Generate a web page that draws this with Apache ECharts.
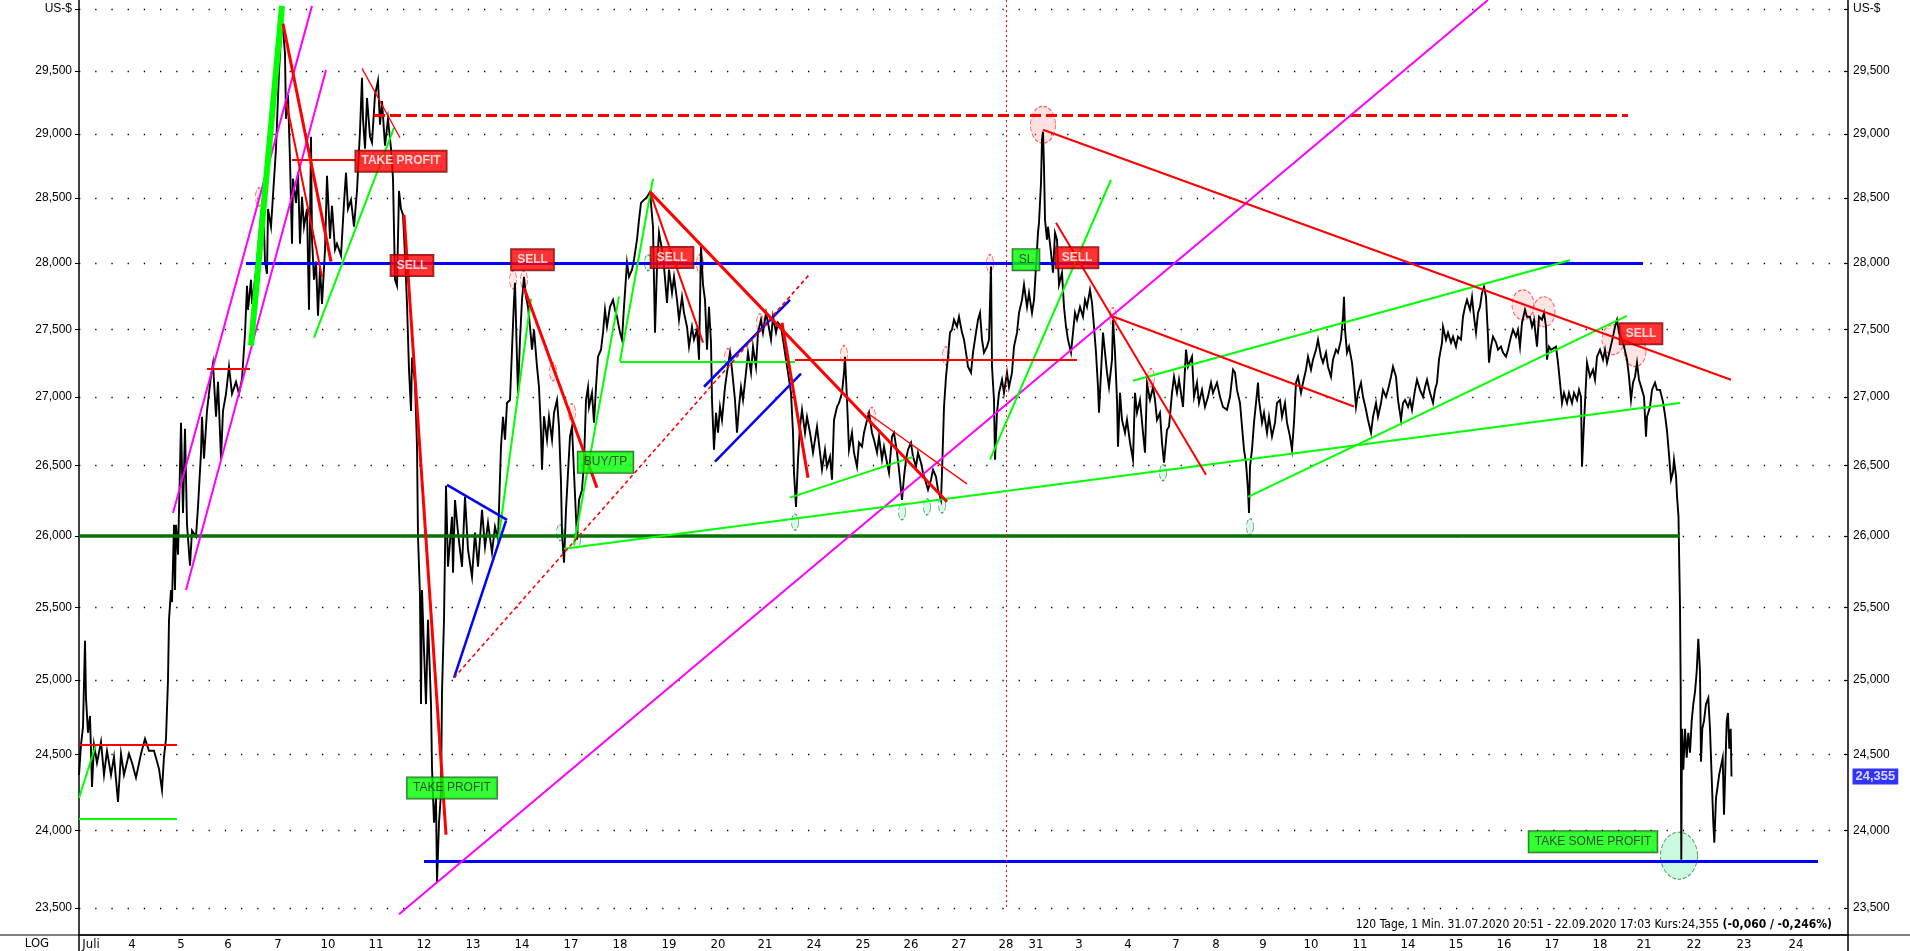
<!DOCTYPE html>
<html><head><meta charset="utf-8">
<script src="https://cdn.jsdelivr.net/npm/echarts@6/dist/echarts.min.js"></script>
<style>html,body{margin:0;padding:0;background:#fff}#c{width:1910px;height:951px}</style>
</head><body><div id="c"></div>
<script>
// time index (0..1769 ≈ 49 steps per trading day), price in US-$
const prices = [
[0,24365],[2,24565],[4,24685],[6,25269],[7,24879],[9,24645],[11,24758],[13,24285],[15,24565],[18,24445],[22,24585],[25,24365],[28,24525],[32,24365],[35,24485],[39,24186],[42,24505],[45,24365],[50,24505],[53,24445],[57,24346],[62,24505],[66,24605],[70,24525],[75,24525],[80,24405],[83,24265],[85,24485],[87,24605],[89,25002],[90,25413],[92,25620],[93,25536],[95,26078],[96,25620],[97,26078],[99,25867],[102,26811],[104,26162],[106,26767],[108,26078],[111,25789],[113,26036],[117,25994],[119,26205],[122,26594],[123,26854],[125,26550],[128,26897],[132,27155],[134,27244],[137,26854],[139,27110],[142,26550],[144,26897],[147,27022],[150,27222],[153,27022],[157,27110],[160,27022],[163,27133],[166,27467],[168,27827],[169,27646],[172,27873],[173,27690],[177,27941],[179,28101],[182,28369],[184,28507],[186,28010],[188,27918],[189,28414],[192,28277],[197,28883],[200,29493],[203,29928],[206,29638],[207,29118],[209,29307],[211,28789],[213,28147],[214,28648],[217,28460],[219,28695],[221,28147],[223,28507],[225,28277],[228,28414],[230,27646],[232,28977],[233,28185],[235,27873],[237,28010],[239,27601],[241,27964],[243,27690],[246,28101],[248,28671],[251,28185],[253,28437],[256,28101],[258,28147],[262,28056],[265,28460],[267,28695],[269,28414],[272,28483],[275,28277],[278,28553],[281,29024],[283,29444],[284,29118],[286,28883],[288,29283],[291,28977],[293,28930],[296,29307],[299,29420],[301,29071],[303,29259],[306,28906],[309,29118],[312,28883],[314,28648],[316,27873],[318,27827],[320,28553],[322,28414],[324,28369],[326,28056],[328,27690],[330,27200],[332,26897],[333,27289],[336,27110],[338,26637],[339,25994],[341,25578],[342,24838],[343,25620],[345,25207],[347,24838],[349,25413],[352,24838],[353,24412],[355,24050],[357,24212],[358,23661],[360,24050],[362,24245],[363,24920],[365,25413],[367,26355],
[369,25782],[373,26134],[374,25740],[376,26254],[379,26022],[383,25782],[386,26276],[389,25902],[393,25712],[396,26022],[399,25782],[403,26184],[406,25923],[409,26092],[413,25881],[416,26064],[419,25972],[422,26637],[424,26854],[426,26688],[428,26955],[431,26977],[433,27348],[435,27720],[436,27850],[438,27274],[439,27029],[441,27423],[443,27720],[445,27895],[447,27743],[449,27668],[451,27519],[453,27348],[455,27497],[458,27222],[460,27071],[462,26738],[463,26471],[465,26857],[468,26688],[470,26854],[473,26688],[475,26883],[478,26977],[480,26782],[482,26377],[483,26022],[485,25810],[487,26184],[489,26449],[491,26710],[493,26782],[495,26449],[497,26134],[498,25972],[500,26254],[503,26326],[505,26521],[507,26977],[509,27071],[510,26926],[513,27029],[515,26811],[517,27071],[519,27296],[522,27348],[524,27475],[526,27646],[528,27519],[531,27668],[534,27720],[536,27646],[538,27594],[541,27475],[543,27423],[545,27668],[548,28002],[550,27895],[553,27949],[555,28025],[558,28178],[560,28330],[562,28460],[568,28507],[571,28546],[574,28277],[576,27475],[578,27972],[580,28231],[583,28101],[585,27972],[588,27698],[590,27949],[593,27773],[595,27895],[598,27720],[600,27571],[603,27743],[605,27623],[608,27519],[610,27371],[613,27519],[615,27423],[618,27497],[620,27274],[622,28125],[624,27835],[626,27720],[628,27348],[630,27668],[632,27401],[633,26977],[635,26615],[637,26883],[639,26738],[641,26926],[643,26831],[646,27071],[648,27178],[651,27326],[653,27200],[656,26977],[658,26738],[660,26926],[662,27071],[664,26977],[667,27178],[669,27326],[672,27178],[674,27371],[677,27222],[679,27475],[682,27571],[684,27475],[687,27623],[689,27549],[692,27423],[694,27594],[697,27475],[699,27549],[702,27519],[704,27423],[707,27274],[709,27178],[712,27029],[714,26738],[715,26449],[717,26205],[719,26543],[721,26782],[723,26905],[726,26738],[728,26854],[731,26738],[734,26594],[738,26782],
[741,26594],[743,26471],[746,26615],[748,26492],[751,26565],[753,26399],[755,26831],[758,26926],[760,26955],[763,27029],[765,27178],[766,27296],[768,26977],[770,26615],[773,26738],[775,26594],[778,26492],[780,26666],[783,26637],[785,26738],[788,26831],[790,26883],[793,26738],[795,26688],[798,26594],[800,26710],[803,26543],[805,26637],[808,26521],[810,26449],[813,26710],[815,26738],[818,26594],[820,26471],[823,26254],[825,26420],[827,26543],[829,26615],[832,26666],[834,26565],[837,26492],[839,26594],[842,26521],[844,26449],[847,26377],[849,26326],[852,26399],[854,26471],[857,26420],[859,26326],[862,26254],[863,26449],[865,26926],[867,27148],[869,27294],[871,27475],[873,27497],[875,27571],[878,27519],[880,27594],[883,27475],[885,27423],[887,27326],[889,27222],[892,27178],[894,27326],[897,27475],[899,27571],[901,27623],[903,27423],[905,27326],[908,27371],[910,27423],[912,27972],[913,27222],[915,26977],[916,26543],[918,26883],[920,27029],[923,27126],[925,27029],[928,27178],[930,27071],[933,27178],[935,27371],[938,27475],[940,27623],[943,27720],[945,27835],[948,27668],[950,27773],[953,27623],[955,27720],[957,27972],[959,28231],[960,28308],[962,28616],[963,28953],[964,29016],[965,28742],[966,28330],[968,28178],[969,28277],[972,28078],[974,27926],[976,28231],[978,28178],[980,27835],[983,27926],[985,27668],[987,27519],[989,27423],[992,27326],[994,27475],[996,27623],[998,27571],[1001,27668],[1004,27594],[1006,27720],[1008,27668],[1011,27796],[1013,27698],[1015,27519],[1017,27326],[1019,27071],[1020,26883],[1022,27178],[1024,27475],[1026,27326],[1028,27178],[1030,27071],[1033,27274],[1034,27571],[1036,27326],[1038,26977],[1039,26637],[1041,27029],[1043,26831],[1046,26738],[1048,26831],[1051,26666],[1054,26543],[1056,27029],[1058,26883],[1061,26977],[1064,26738],[1066,26594],[1068,27097],[1071,26977],[1074,27071],[1076,26977],[1078,26831],[1081,26883],[1083,26666],[1085,26521],[1088,26760],[1090,26782],[1093,27029],[1095,27148],[1098,27029],[1100,27126],
[1104,26926],[1107,27348],[1109,27222],[1113,27296],[1115,27000],[1118,27104],[1120,26955],[1123,27051],[1126,26926],[1129,27000],[1132,27104],[1134,27029],[1138,27104],[1141,27000],[1144,26926],[1148,26905],[1151,27000],[1154,27200],[1156,27178],[1158,27051],[1161,26955],[1163,26782],[1165,26615],[1167,26521],[1169,26326],[1170,26162],[1171,26492],[1173,26615],[1175,26811],[1177,26955],[1179,27104],[1180,26977],[1183,26811],[1185,26883],[1188,26738],[1190,26854],[1193,26710],[1196,26811],[1198,26955],[1201,26977],[1203,26854],[1206,26955],[1208,26811],[1211,26710],[1213,26615],[1215,26811],[1217,27104],[1219,27148],[1222,27029],[1224,27104],[1227,27200],[1229,27296],[1232,27200],[1234,27274],[1237,27348],[1239,27423],[1242,27296],[1244,27252],[1247,27326],[1249,27222],[1252,27148],[1254,27274],[1257,27348],[1259,27326],[1262,27423],[1264,27594],[1265,27743],[1266,27497],[1268,27326],[1270,27371],[1273,27252],[1275,27104],[1277,26926],[1279,27029],[1282,27104],[1284,27000],[1287,26905],[1289,26831],[1292,26738],[1294,26854],[1297,26955],[1299,26854],[1302,26955],[1304,27051],[1307,27000],[1309,27051],[1312,27148],[1314,27222],[1317,27148],[1319,26977],[1322,26831],[1324,26955],[1326,26977],[1329,26926],[1331,26977],[1333,26905],[1336,27051],[1338,27126],[1341,27051],[1344,27000],[1346,27071],[1348,27126],[1351,27029],[1354,26955],[1356,27051],[1358,27104],[1360,27274],[1363,27401],[1364,27519],[1367,27423],[1369,27475],[1372,27401],[1374,27445],[1377,27371],[1379,27445],[1382,27423],[1384,27594],[1386,27668],[1388,27720],[1391,27646],[1393,27743],[1395,27594],[1397,27475],[1399,27623],[1401,27668],[1403,27773],[1405,27819],[1407,27743],[1409,27445],[1410,27252],[1412,27371],[1414,27445],[1417,27401],[1419,27348],[1422,27371],[1424,27326],[1427,27296],[1429,27348],[1432,27445],[1434,27497],[1437,27445],[1439,27497],[1441,27371],[1443,27549],[1446,27646],[1448,27594],[1451,27594],[1453,27519],[1455,27571],[1458,27371],[1460,27594],[1463,27571],[1465,27623],[1467,27519],[1468,27274],[1470,27371],[1472,27348],[1474,27348],[1477,27371],[1479,27252],[1481,27104],[1483,26955],[1485,27029],[1488,26955],[1490,27029],[1493,26955],[1495,27029],[1498,26977],[1500,27051],[1502,27000],[1503,26492],[1505,26811],[1507,27104],[1508,27252],[1511,27148],[1514,27200],[1516,27126],[1518,27296],[1521,27348],[1524,27274],[1526,27348],[1528,27252],[1531,27348],[1534,27445],[1536,27519],[1538,27571],[1540,27475],[1543,27423],[1545,27371],[1548,27274],[1550,27148],[1552,26977],[1554,27104],[1556,27148],[1558,27252],[1560,27126],[1563,27051],[1565,27000],[1567,26710],[1568,26854],[1571,26926],[1573,27051],[1576,27104],[1578,27051],
[1581,27051],[1584,26963],[1586,26868],[1588,26753],[1590,26579],[1592,26399],[1594,26456],[1595,26543],[1597,26427],[1598,26283],[1599.5,26134],[1600.3,25789],[1601,25502],[1601.7,24947],[1602,24265],[1602.3,23810],[1603,24672],[1604.3,24399],[1606,24672],[1607.7,24479],[1609.3,24645],[1611,24512],[1612.7,24725],[1614.3,24838],[1616,24920],[1617.7,25057],[1619.3,25283],[1621,25057],[1622,24452],[1623.3,24672],[1625,24725],[1627,24838],[1629.3,24879],[1631,24672],[1632.7,24346],[1634.3,24050],[1635.3,23920],[1637,24212],[1638.7,24292],[1640.3,24372],[1642,24425],[1643.7,24479],[1645,24102],[1646.3,24399],[1647.7,24725],[1649,24778],[1650.3,24539],[1651.7,24672],[1652.5,24355]
];
const lastPrice = 24355;
const yTicks = [23500,24000,24500,25000,25500,26000,26500,27000,27500,28000,28500,29000,29500,30000];
const yRange = [23328, 30073];
const xRange = [0, 1769];
const xLabelPos = [12,53,102,149,199,249,297,345,394,443,492,541,590,639,686,735,784,832,880,927,957,1000,1049,1097,1137,1184,1232,1281,1329,1377,1425,1473,1521,1565,1615,1665,1717];
const xLabelText = ['Juli','4','5','6','7','10','11','12','13','14','17','18','19','20','21','24','25','26','27','28','31','3','4','7','8','9','10','11','14','15','16','17','18','21','22','23','24'];

// trend lines [t1, price1, t2, price2]
const redThick = [[204,29880,252,28010],[325,28369,367,23972],[571,28546,868,26242],[703,27549,729,26413],[445,27812,518,26341]];
const redMid = [[207,29259,243,27895],[571,28546,624,27401],[964,29032,1652,27126],[977,28307,1127,26435],[1034,27596,1275,26929],[213,28793,277,28793],[0,24565,98,24565],[128,27207,171,27207],[716,27270,998,27270]];
const redThin = [[283,29520,321,28969],[788,26883,888,26369]];
const redDotted = [[375,25016,731,27918]];
const redDashedLevel = [[295,29150,1549,29150]];
const redVertical = [[927,30073,927,23500]];
const greenLines = [[0,24212,17,24565],[235,27438,315,29047],[419,25949,452,27728],[495,25937,540,27745],[541,27262,574,28648],[541,27262,716,27262],[485,25909,1601,26955],[711,26271,834,26563],[911,26543,1032,28640],[1054,27118,1491,28020],[1169,26276,1548,27601],[0,24078,98,24078]];
const greenThick = [[172,27378,203,30025]];
const magentaLines = [[320,23460,1409,30073],[94,26162,233,30025],[107,25620,247,29506]];
const blueLines = [[368,26362,428,26113],[375,25016,427,26106],[625,27074,711,27720],[636,26529,722,27170]];
const blueLevels = [[167,28000,1564,28000],[345,23800,1739,23800]];
const greenLevels = [[0,26000,1601,26000]];

// markers
const pinkBig = [[964,29071]];
const pinkMid = [[1444,27683],[1465,27631],[1534,27423],[1556,27334]];
const pinkSmall = [[765,27311],[867,27303],[911,27995],[793,26857],[1034,27594],[1072,27141],[434,27873],[445,27873],[474,27185],[493,26883],[621,27995],[681,27549],[649,27289],[180,28507]];
const greenSmall = [[481,26022],[498,25972],[569,28002],[823,26170],[848,26205],[863,26219],[1084,26449],[1171,26064],[716,26096]];
const greenBig = [[1600,23836]];
const redBoxes = [[322,28785,'TAKE PROFIT'],[333,27980,'SELL'],[453.5,28025,'SELL'],[593,28042,'SELL'],[998,28040,'SELL'],[1562,27467,'SELL']];
const greenBoxes = [[947,28025,'SL'],[526.5,26525,'BUY/TP'],[373,24279,'TAKE PROFIT'],[1514,23927,'TAKE SOME PROFIT']];

const footerMain = '120 Tage, 1 Min. 31.07.2020 20:51 - 22.09.2020 17:03 Kurs:24,355 ';
const footerBold = '(-0,060 / -0,246%)';

const L = Math.log;
const NARROW = "'Liberation Sans Narrow','DejaVu Sans Condensed','Liberation Sans',sans-serif";
const SANS = "'Liberation Sans',Arial,sans-serif";
const yTickVals = yTicks.map(L);
function fmtPrice(v){ const p = Math.round(Math.exp(v)); if (p >= 29990) return 'US-$'; return p.toLocaleString('en-US'); }

function lineSer(arr, color, width, type, z){
  return {type:'lines', coordinateSystem:'cartesian2d', polyline:false, silent:true, z:z||5,
    lineStyle:{color:color, width:width, type:type||'solid', opacity:1, curveness:0},
    data: arr.map(s => ({coords:[[s[0], L(s[1])],[s[2], L(s[3])]]}))};
}
function ellSer(arr, size, fill, border, z){
  return {type:'scatter', symbol:'circle', symbolSize:size, silent:true, z:z||3,
    itemStyle:{color:fill, borderColor:border, borderWidth:1, borderType:'dashed'},
    data: arr.map(p => [p[0], L(p[1])])};
}
function boxSer(arr, bg, fg, border, weight, z){
  return {type:'scatter', symbolSize:1, silent:true, z:z||10, itemStyle:{color:'rgba(0,0,0,0)'},
    label:{show:true, position:'inside', formatter:'{b}', backgroundColor:bg, color:fg, borderColor:border, borderWidth:1,
      padding:[5,6,4,6], fontSize:12, fontWeight:weight, fontFamily:SANS},
    data: arr.map(b => ({name:b[2], value:[b[0], L(b[1])]}))};
}

const chart = echarts.init(document.getElementById('c'), null, {renderer:'canvas'});
const yAxisBase = {
  type:'value', min:L(yRange[0]), max:L(yRange[1]),
  axisLine:{show:true, onZero:false, lineStyle:{color:'#000', width:1.5}},
  axisLabel:{customValues:yTickVals, formatter:fmtPrice, color:'#000', fontSize:12, fontFamily:SANS},
  axisTick:{show:true, customValues:yTickVals, length:4, lineStyle:{color:'#000'}},
};
chart.setOption({
  animation:false,
  backgroundColor:'#fff',
  grid:{left:79, right:62, top:0, bottom:16, containLabel:false},
  xAxis:{type:'value', min:xRange[0], max:xRange[1],
    axisLine:{show:true, onZero:false, lineStyle:{color:'#000', width:1.5}},
    axisTick:{show:false}, splitLine:{show:false},
    axisLabel:{customValues:xLabelPos, margin:3, color:'#000', fontSize:13, fontFamily:NARROW,
      formatter:function(v){ const i = xLabelPos.indexOf(v); return i >= 0 ? xLabelText[i] : ''; }}},
  yAxis:[
    Object.assign({}, yAxisBase, {position:'left',
      axisLabel:Object.assign({}, yAxisBase.axisLabel, {margin:7}),
      splitLine:{show:true, lineStyle:{color:'#000', width:1.3, type:[1.3,14.9]}}}),
    Object.assign({}, yAxisBase, {position:'right',
      axisLabel:Object.assign({}, yAxisBase.axisLabel, {margin:5}),
      axisTick:Object.assign({}, yAxisBase.axisTick, {inside:true}),
      splitLine:{show:false}})
  ],
  series:[
    ellSer(pinkBig, [25,37], 'rgba(255,170,170,0.45)', '#ff3030', 3),
    ellSer(pinkMid, [22,30], 'rgba(255,170,170,0.4)', '#ff3030', 3),
    ellSer(pinkSmall, [7,18], 'rgba(255,190,190,0.4)', '#ff3030', 3),
    ellSer(greenSmall, [7,16], 'rgba(150,240,190,0.45)', '#1a8a3a', 3),
    ellSer(greenBig, [37,47], 'rgba(150,240,190,0.6)', '#1a8a3a', 3),
    {type:'line', data:prices.map(p => [p[0], L(p[1])]), showSymbol:false, silent:true, z:4,
      lineStyle:{color:'#000', width:1.9, join:'miter'}},
    lineSer(greenLevels, '#077207', 3.5, 'solid', 5),
    lineSer(blueLevels, '#0000ff', 3, 'solid', 5),
    lineSer(redDashedLevel, '#ff0000', 3, [11,5], 5),
    lineSer(redVertical, '#ff0000', 1, [2,3], 5),
    lineSer(magentaLines, '#ff00ff', 2, 'solid', 6),
    lineSer(greenLines, '#00ff00', 2, 'solid', 6),
    lineSer(greenThick, '#00ff00', 6, 'solid', 6),
    lineSer(blueLines, '#0000ff', 2.5, 'solid', 6),
    lineSer(redThin, '#ff0000', 1.3, 'solid', 6),
    lineSer(redMid, '#ff0000', 2, 'solid', 6),
    lineSer(redThick, '#ff0000', 3, 'solid', 6),
    lineSer(redDotted, '#ff0000', 1.6, [4,3], 6),
    boxSer(redBoxes, '#ff0000', '#ffffff', '#5a0000', 'bold', 10),
    boxSer(greenBoxes, '#00ff00', '#2a2a2a', '#1c3a1c', 'normal', 10),
    {type:'scatter', yAxisIndex:1, symbolSize:1, silent:true, z:10, itemStyle:{color:'rgba(0,0,0,0)'},
      label:{show:true, position:'right', distance:4, formatter:function(){ return lastPrice.toLocaleString('en-US'); },
        backgroundColor:'#0000ff', color:'#fff', fontWeight:'bold', fontSize:13, fontFamily:SANS, padding:[2,3,1,3]},
      data:[[xRange[1], L(lastPrice)]]}
  ],
  graphic:[
    {type:'line', silent:true, shape:{x1:0, y1:935, x2:1910, y2:935}, style:{stroke:'#000', lineWidth:1}},
    {type:'line', silent:true, shape:{x1:79, y1:935, x2:79, y2:951}, style:{stroke:'#000', lineWidth:1.5}},
    {type:'line', silent:true, shape:{x1:1848, y1:935, x2:1848, y2:951}, style:{stroke:'#000', lineWidth:1.5}},
    {type:'text', silent:true, x:37, y:944, style:{text:'LOG', fill:'#000', font:'13px '+NARROW, align:'center', verticalAlign:'middle', textAlign:'center', textVerticalAlign:'middle'}},
    {type:'text', silent:true, x:1832, y:925, style:{text:'{a|'+footerMain+'}{b|'+footerBold+'}', align:'right', verticalAlign:'middle', textAlign:'right', textVerticalAlign:'middle',
      rich:{a:{fontSize:12, fontFamily:NARROW, fill:'#000', color:'#000'}, b:{fontSize:12, fontFamily:NARROW, fontWeight:'bold', fill:'#000', color:'#000'}}}}
  ]
});
</script></body></html>
